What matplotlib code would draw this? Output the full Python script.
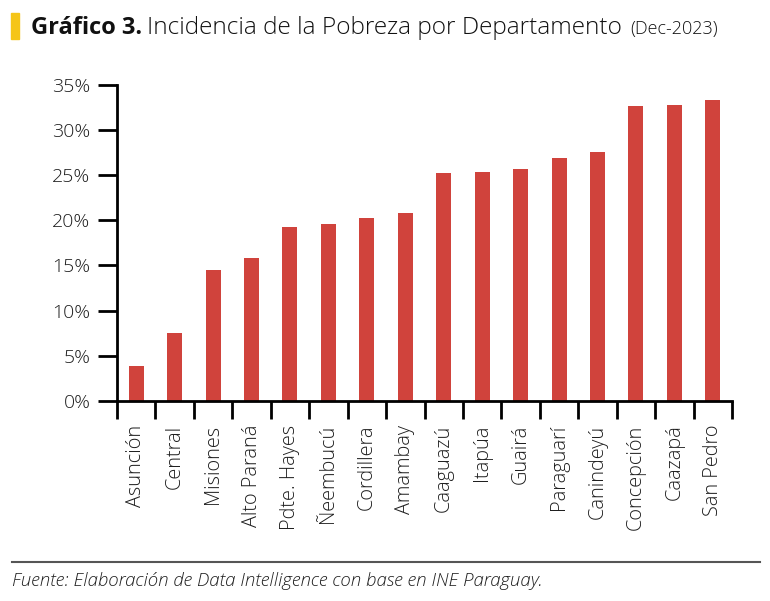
import matplotlib
matplotlib.use("Agg")
import matplotlib.pyplot as plt
from matplotlib.patches import Rectangle
from matplotlib.lines import Line2D
from matplotlib.ticker import FixedLocator, PercentFormatter

categories = ["Asunción", "Central", "Misiones", "Alto Paraná", "Pdte. Hayes", "Ñeembucú",
              "Cordillera", "Amambay", "Caaguazú", "Itapúa", "Guairá", "Paraguarí",
              "Canindeyú", "Concepción", "Caazapá", "San Pedro"]
values = [3.9, 7.5, 14.5, 15.8, 19.2, 19.6, 20.2, 20.8, 25.2, 25.3, 25.7, 26.9,
          27.5, 32.6, 32.7, 33.3]
yticks = [0, 5, 10, 15, 20, 25, 30, 35]

FONT = ["Open Sans", "DejaVu Sans"]
plt.rcParams["font.family"] = FONT
TXT = "#1e1e1e"
BAR = "#d0433c"
LW = "light"

fig = plt.figure(figsize=(7.7, 6.01), dpi=100)
ax = fig.add_axes([117/770, 1-401/601, (732-117)/770, (401-84.7)/601])

x = list(range(len(categories)))
ax.bar(x, values, width=0.39, color=BAR, zorder=2)
ax.set_xlim(-0.5, len(categories)-0.5)
ax.set_ylim(0, 35)

ax.yaxis.set_major_locator(FixedLocator(yticks))
ax.yaxis.set_major_formatter(PercentFormatter(decimals=0))
ax.set_xticks(x)
ax.set_xticklabels(categories, rotation=90, fontsize=14.3, color=TXT, fontweight=LW)
ax.set_xticks([i - 0.5 for i in range(len(categories)+1)], minor=True)
ax.tick_params(axis="x", which="major", length=0, pad=17)
ax.tick_params(axis="x", which="minor", length=13, width=2, color="black", direction="out")
ax.tick_params(axis="y", length=14, width=2, color="black", labelsize=14, labelcolor=TXT, pad=5)
for lab in ax.get_yticklabels():
    lab.set_fontweight(LW)

for s in ["top", "right"]:
    ax.spines[s].set_visible(False)
for s in ["left", "bottom"]:
    ax.spines[s].set_linewidth(2)
    ax.spines[s].set_color("black")

# Title
fig.patches.append(Rectangle((11/770, 1-39/601), 8/770, 26/601, transform=fig.transFigure,
                             color="#f5c518", zorder=3))
renderer = fig.canvas.get_renderer()
ty = 1 - 34/601
t1 = fig.text(31/770, ty, "Gráfico 3.", fontsize=17, fontweight="bold", color="#111111", va="baseline")
bb = t1.get_window_extent(renderer)
t2 = fig.text((bb.x1 + 5)/770, ty, "Incidencia de la Pobreza por Departamento", fontsize=17.6,
              color="#111111", va="baseline", fontweight=LW)
bb2 = t2.get_window_extent(renderer)
fig.text((bb2.x1 + 8)/770, ty, "(Dec-2023)", fontsize=13, color="#111111", va="baseline",
         fontweight=LW)

# Footer
fig.add_artist(Line2D([12/770, 760/770], [1-562/601, 1-562/601], transform=fig.transFigure,
                      color="#555555", linewidth=1.5))
fig.text(12/770, 1-586/601, "Fuente: Elaboración de Data Intelligence con base en INE Paraguay.",
         fontsize=13.4, style="italic", color="#1e1e1e", va="baseline", fontweight=LW)

fig.savefig("out.png", dpi=100)
